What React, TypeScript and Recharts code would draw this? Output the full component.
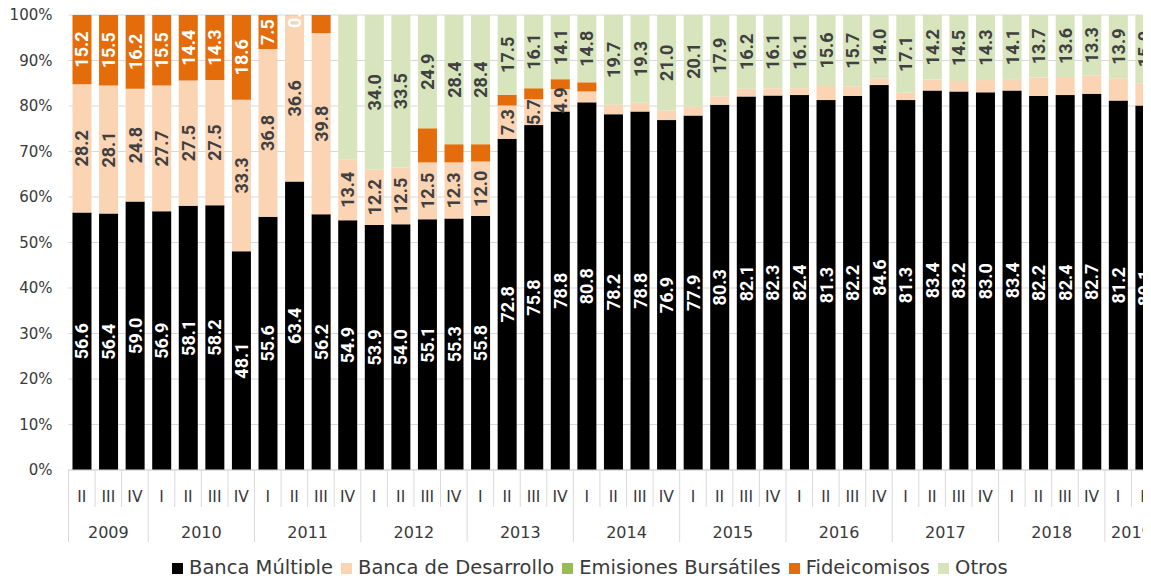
import React from 'react';
import { BarChart, Bar, XAxis, YAxis, CartesianGrid, LabelList } from 'recharts';

// quarters shown on the axis, "year quarter"
const categories = [
  '2009 II', '2009 III', '2009 IV',
  '2010 I', '2010 II', '2010 III', '2010 IV',
  '2011 I', '2011 II', '2011 III', '2011 IV',
  '2012 I', '2012 II', '2012 III', '2012 IV',
  '2013 I', '2013 II', '2013 III', '2013 IV',
  '2014 I', '2014 II', '2014 III', '2014 IV',
  '2015 I', '2015 II', '2015 III', '2015 IV',
  '2016 I', '2016 II', '2016 III', '2016 IV',
  '2017 I', '2017 II', '2017 III', '2017 IV',
  '2018 I', '2018 II', '2018 III', '2018 IV',
  '2019 I', '2019 II',
];

const bancaMultiple = [
  56.6, 56.4, 59.0, 56.9, 58.1, 58.2, 48.1, 55.6, 63.4, 56.2, 54.9,
  53.9, 54.0, 55.1, 55.3, 55.8, 72.8, 75.8, 78.8, 80.8, 78.2, 78.8,
  76.9, 77.9, 80.3, 82.1, 82.3, 82.4, 81.3, 82.2, 84.6, 81.3, 83.4,
  83.2, 83.0, 83.4, 82.2, 82.4, 82.7, 81.2, 80.1,
];
const bancaDesarrollo = [
  28.2, 28.1, 24.8, 27.7, 27.5, 27.5, 33.3, 36.8, 36.6, 39.8, 13.4,
  12.2, 12.5, 12.5, 12.3, 12.0, 7.3, 5.7, 4.9, 2.4, 2.1, 1.9,
  2.1, 2.0, 1.8, 1.7, 1.6, 1.5, 3.1, 2.1, 1.4, 1.6, 2.4,
  2.3, 2.7, 2.5, 4.1, 4.0, 4.0, 4.9, 4.9,
];
const emisionesBursatiles = [
  0, 0, 0, 0, 0, 0, 0, 0, 0, 0, 0,
  0, 0, 0, 0, 0, 0, 0, 0, 0, 0, 0,
  0, 0, 0, 0, 0, 0, 0, 0, 0, 0, 0,
  0, 0, 0, 0, 0, 0, 0, 0,
];
const fideicomisos = [
  15.2, 15.5, 16.2, 15.5, 14.4, 14.3, 18.6, 7.5, 0.03, 4.0, 0,
  0, 0, 7.5, 4.0, 3.8, 2.4, 2.4, 2.2, 2.0, 0, 0,
  0, 0, 0, 0, 0, 0, 0, 0, 0, 0, 0,
  0, 0, 0, 0, 0, 0, 0, 0,
];
const otros = [
  0, 0, 0, 0, 0, 0, 0, 0, 0, 0, 31.7,
  34.0, 33.5, 24.9, 28.4, 28.4, 17.5, 16.1, 14.1, 14.8, 19.7, 19.3,
  21.0, 20.1, 17.9, 16.2, 16.1, 16.1, 15.6, 15.7, 14.0, 17.1, 14.2,
  14.5, 14.3, 14.1, 13.7, 13.6, 13.3, 13.9, 15.0,
];

const yTicks = [0, 0.1, 0.2, 0.3, 0.4, 0.5, 0.6, 0.7, 0.8, 0.9, 1];

// labelFrom / labelTo: which quarters carry a data label
const series = [
  { key: 'bm', name: 'Banca Múltiple', values: bancaMultiple, color: '#000000', labelColor: '#ffffff', labelFrom: 0, labelTo: 40 },
  { key: 'bd', name: 'Banca de Desarrollo', values: bancaDesarrollo, color: '#fbd4b4', labelColor: '#404040', labelFrom: 0, labelTo: 18 },
  { key: 'eb', name: 'Emisiones Bursátiles', values: emisionesBursatiles, color: '#9bbb59', labelColor: '#404040', labelFrom: 1, labelTo: 0 },
  { key: 'fid', name: 'Fideicomisos', values: fideicomisos, color: '#e46c0a', labelColor: '#ffffff', labelFrom: 0, labelTo: 8 },
  { key: 'otros', name: 'Otros', values: otros, color: '#d7e4bc', labelColor: '#404040', labelFrom: 11, labelTo: 40 },
];

const data = categories.map((c, i) => {
  const [year, quarter] = c.split(' ');
  const row: Record<string, any> = { name: c, year, quarter };
  series.forEach((s) => { row[s.key] = s.values[i]; });
  return row;
});

const W = 1170;
const H = 582;
const Y_W = 68.5;
const margin = { top: 15, right: 12, left: 0, bottom: 0 };
const X_H = 112;
const band = (W - margin.left - margin.right - Y_W) / data.length;
const axisFont = '"DejaVu Sans", sans-serif';
const textColor = '#3a3a3a';

const XTick = (props: any) => {
  const { x, y, payload } = props;
  const i = payload.index;
  const d = data[i];
  if (!d) return null;
  const left = x - band / 2;
  const first = i === 0 || data[i - 1].year !== d.year;
  const last = i === data.length - 1;
  const n = data.filter((r) => r.year === d.year).length;
  return (
    <g>
      <line x1={left} x2={left} y1={y} y2={y + (first ? 72 : 37)} stroke="#d9d9d9" />
      {last && <line x1={left + band} x2={left + band} y1={y} y2={y + 72} stroke="#d9d9d9" />}
      <text x={x} y={y + 32} textAnchor="middle" fontFamily={axisFont} fontSize={15.5} fill={textColor}>
        {d.quarter}
      </text>
      {first && (
        <text x={left + (n * band) / 2} y={y + 68} textAnchor="middle" fontFamily={axisFont} fontSize={16} fill={textColor}>
          {d.year}
        </text>
      )}
    </g>
  );
};

const makeLabel = (s: any) => (props: any) => {
  const { x, y, width, height, value } = props;
  const cx = Number(x) + Number(width) / 2;
  const cy = Number(y) + Number(height) / 2;
  const idx = Math.floor((cx - margin.left - Y_W) / band);
  if (idx < s.labelFrom || idx > s.labelTo || value == null) return null;
  return (
    <text
      x={cx}
      y={cy}
      transform={`rotate(-90 ${cx} ${cy})`}
      textAnchor="middle"
      dominantBaseline="central"
      fill={s.labelColor}
      fontFamily="Roboto, sans-serif"
      fontWeight={700}
      fontSize={18}
    >
      {Number(value).toFixed(1)}
    </text>
  );
};

export default function App() {
  return (
    <div style={{ margin: -8, width: 1151, height: H, overflow: 'hidden', position: 'relative', background: '#fff' }}>
      <BarChart width={W} height={H} data={data} margin={margin} stackOffset="expand" barCategoryGap="15%">
        <CartesianGrid vertical={false} stroke="#d9d9d9" />
        <XAxis
          dataKey="name"
          interval={0}
          height={X_H}
          tick={<XTick />}
          tickLine={false}
          tickSize={0}
          tickMargin={0}
          axisLine={{ stroke: '#d9d9d9' }}
        />
        <YAxis
          width={Y_W}
          domain={[0, 1]}
          ticks={yTicks}
          tickFormatter={(v: number) => `${Math.round(v * 100)}%`}
          axisLine={false}
          tickLine={false}
          tickSize={0}
          tickMargin={16}
          tick={{ fontFamily: axisFont, fontSize: 15, fill: textColor }}
        />
        {series.map((s) => (
          <Bar key={s.key} dataKey={s.key} name={s.name} stackId="a" fill={s.color} isAnimationActive={false}>
            <LabelList dataKey={s.key} content={makeLabel(s)} />
          </Bar>
        ))}
      </BarChart>
      <div
        style={{
          position: 'absolute',
          top: 556,
          left: 172,
          display: 'flex',
          alignItems: 'center',
          fontFamily: axisFont,
          fontSize: 19.5,
          color: textColor,
          lineHeight: '24px',
          whiteSpace: 'nowrap',
        }}
      >
        {series.map((s) => (
          <span key={s.key} style={{ display: 'inline-flex', alignItems: 'center', marginRight: 8 }}>
            <span style={{ width: 11, height: 11, background: s.color, display: 'inline-block', marginRight: 6 }} />
            {s.name}
          </span>
        ))}
      </div>
    </div>
  );
}
